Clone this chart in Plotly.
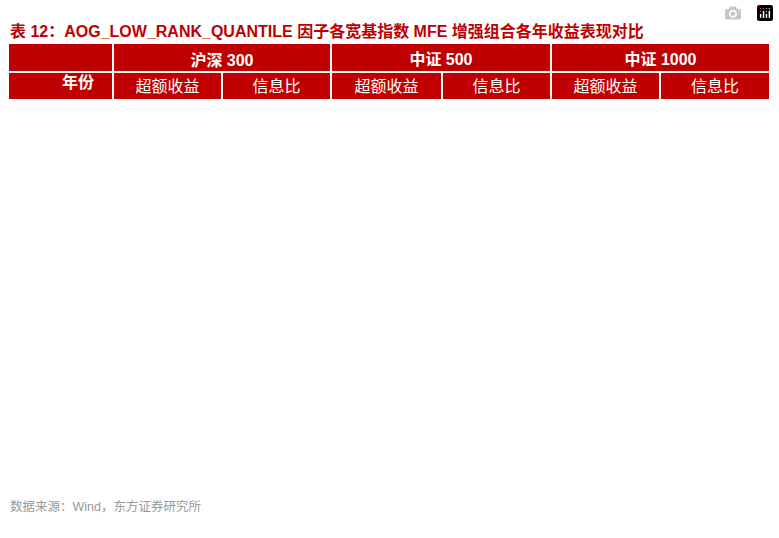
import plotly.graph_objects as go

years = ["2010","2011","2012","2013","2014","2015","2016","2017","2018","2019","2020","2021","2022","2023","2024","全样本期"]
hs300_ret = ["0.34%","2.04%","2.07%","3.07%","8.21%","1.67%","4.47%","1.46%","3.10%","0.78%","-6.12%","0.26%","3.82%","8.29%","4.47%","2.71%"]
hs300_ir = ["0.04","1.55","1.01","1.68","3.07","0.55","2.11","0.81","1.78","0.28","-2.39","-0.03","1.60","3.89","1.85","1.12"]
zz500_ret = ["-2.32%","5.99%","-0.56%","1.60%","12.02%","0.50%","8.68%","-0.78%","4.91%","0.92%","-3.32%","0.46%","3.64%","10.42%","4.59%","3.55%"]
zz500_ir = ["-0.78","2.68","-0.34","0.27","2.36","0.05","2.36","-0.36","1.71","0.11","-0.73","0.02","0.84","3.23","0.87","0.78"]
zz1000_ret = ["","","","","","-2.81%","11.23%","4.59%","5.42%","1.17%","1.16%","4.84%","4.80%","13.76%","7.62%","6.13%"]
zz1000_ir = ["","","","","","-0.11","2.28","1.71","1.65","0.09","0.01","0.48","0.64","2.70","0.91","0.87"]
group_headers = ["", "沪深 300", "中证 500", "中证 1000"]
sub_headers = ["", "超额收益", "信息比", "超额收益", "信息比", "超额收益", "信息比"]

H = 538
RED = "#C00000"
LIGHT, DARK = "#F3E7E7", "#E8CECF"
FONT = "Liberation Sans, Arial, Noto Sans CJK SC"
n = len(years)
fills = [LIGHT if i % 2 == 0 else DARK for i in range(n)]
txt_colors = ["#C00000" if i >= n - 4 else "#111111" for i in range(n)]
widths = [105, 109, 109, 111, 109, 109, 110]

fig = go.Figure()
fig.add_trace(go.Table(
    domain=dict(x=[8/779, 770/779], y=[1 - 72/H, 1 - 43/H]),
    columnwidth=[widths[0], widths[1]+widths[2], widths[3]+widths[4], widths[5]+widths[6]],
    header=dict(values=[f"<b>{g}</b>" for g in group_headers], fill_color=RED,
                line=dict(color="white", width=2), height=29,
                font=dict(color="white", size=16, family=FONT), align="center")))
fig.add_trace(go.Table(
    domain=dict(x=[8/779, 770/779], y=[0, 1 - 72/H]),
    columnwidth=widths,
    header=dict(values=sub_headers, fill_color=RED, line=dict(color="white", width=2),
                height=28, font=dict(color="white", size=16, family=FONT), align="center"),
    cells=dict(values=[years, hs300_ret, hs300_ir, zz500_ret, zz500_ir, zz1000_ret, zz1000_ir],
               fill=dict(color=[fills]*7), line=dict(color="white", width=2), height=25,
               font=dict(color=[txt_colors]*7, size=15.5, family=FONT), align="center")))

fig.add_annotation(x=(8+52)/779, y=1-71/H, xref="paper", yref="paper", text="<b>年份</b>",
                   showarrow=False, font=dict(color="white", size=16, family=FONT))
fig.add_annotation(x=8/779, y=1-20/H, xref="paper", yref="paper", xanchor="left",
                   text="<b>表 12：AOG_LOW_RANK_QUANTILE 因子各宽基指数 MFE 增强组合各年收益表现对比</b>",
                   showarrow=False, font=dict(color=RED, size=16, family=FONT))
fig.add_annotation(x=8/779, y=1-516/H, xref="paper", yref="paper", xanchor="left",
                   text="数据来源：Wind，东方证券研究所", showarrow=False,
                   font=dict(color="#999999", size=12.5, family=FONT))
fig.update_layout(width=779, height=H, margin=dict(l=0, r=0, t=0, b=0),
                  paper_bgcolor="white", plot_bgcolor="white")
fig.write_html("out.html")
with open("out.html", encoding="utf-8") as f:
    html = f.read()
html = html.replace("<body>", '<body style="margin:0">', 1)
with open("out.html", "w", encoding="utf-8") as f:
    f.write(html)
